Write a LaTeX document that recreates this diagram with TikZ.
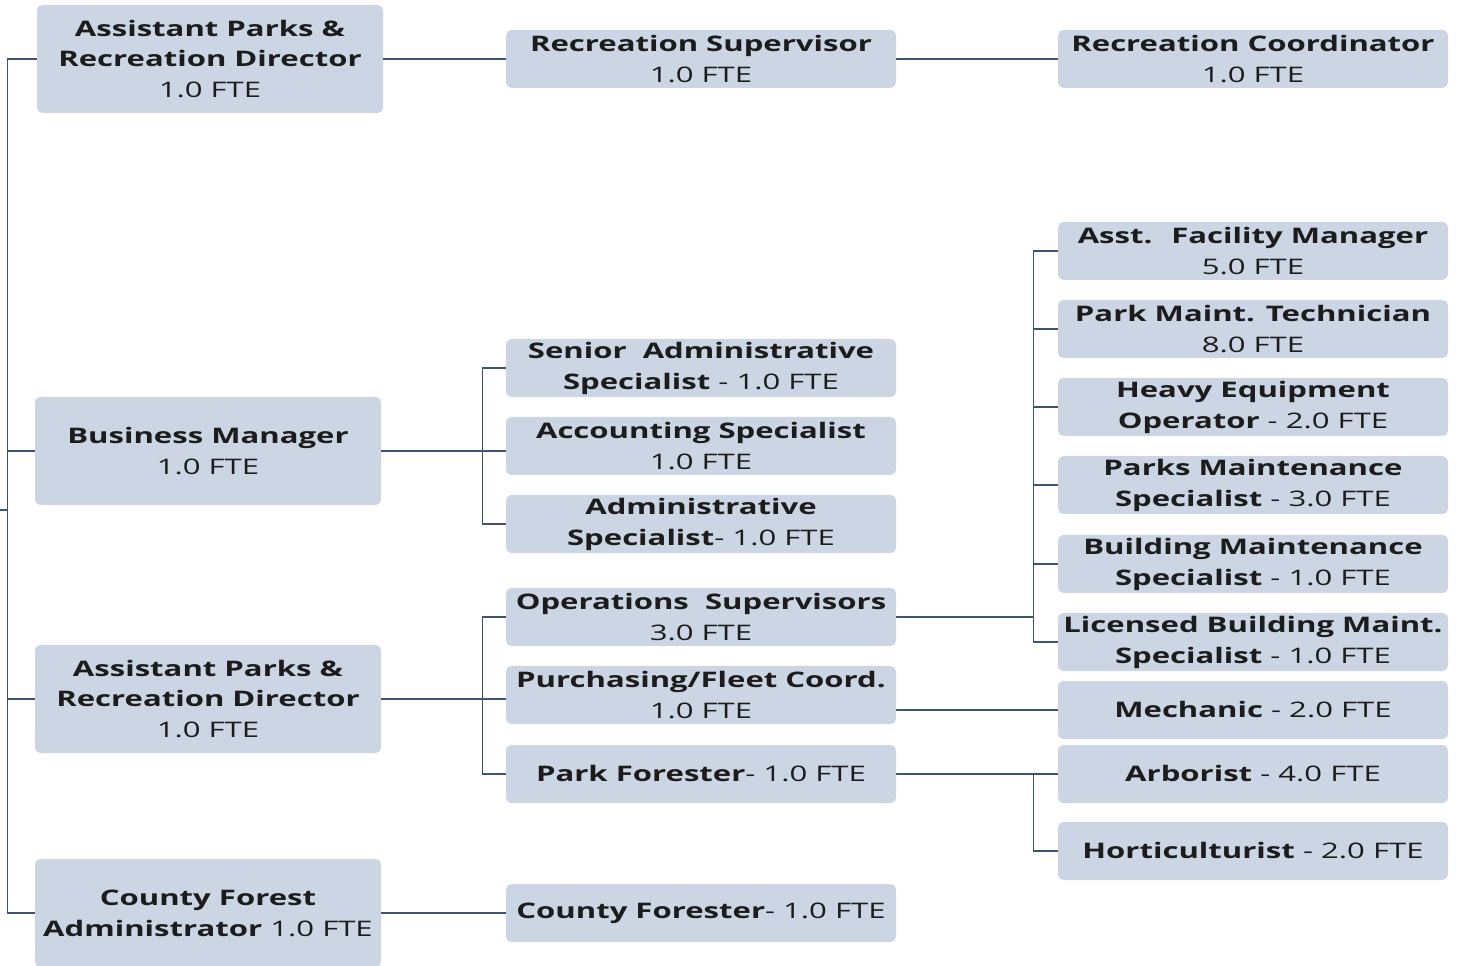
\documentclass[tikz,border=0pt]{standalone}
\usepackage{fontspec}
\setmainfont{Open Sans}[FakeStretch=1.45]
\usepackage{xcolor}
\definecolor{boxfill}{HTML}{CBD5E3}
\definecolor{linkcol}{HTML}{3D5475}
\definecolor{txt}{HTML}{1C1C1C}

\begin{document}
\begin{tikzpicture}[big/.style={fill=boxfill,rounded corners=3pt,minimum width=6.92cm,minimum height=2.16cm,align=center,text=txt,font=\fontsize{12.2}{17.6}\selectfont},
                    small/.style={fill=boxfill,rounded corners=3pt,minimum width=7.8cm,minimum height=1.16cm,align=center,text=txt,inner sep=1pt,font=\fontsize{12.2}{17.6}\selectfont},
                    link/.style={draw=linkcol,line width=0.9pt}]
                \useasboundingbox (0,0) rectangle (29.2,-19.32);

                \node[big] (a1) at (4.2,-1.18) {\textbf{Assistant Parks \&}\\\textbf{Recreation Director}\\1.0 FTE};
                \node[big] (bm) at (4.16,-9.02) {\textbf{Business Manager}\\1.0 FTE};
                \node[big] (a2) at (4.16,-13.98) {\textbf{Assistant Parks \&}\\\textbf{Recreation Director}\\1.0 FTE};
                \node[big] (cfa) at (4.16,-18.26) {\textbf{County Forest}\\\textbf{Administrator} 1.0 FTE};

                \node[small] (recsup) at (14.02,-1.18) {\textbf{Recreation Supervisor}\\1.0 FTE};
                \node[small] (sras) at (14.02,-7.36) {\textbf{Senior~ Administrative}\\\textbf{Specialist} - 1.0 FTE};
                \node[small] (acct) at (14.02,-8.92) {\textbf{Accounting Specialist}\\1.0 FTE};
                \node[small] (adms) at (14.02,-10.48) {\textbf{Administrative}\\\textbf{Specialist}- 1.0 FTE};
                \node[small] (opsup) at (14.02,-12.34) {\textbf{Operations~ Supervisors}\\3.0 FTE};
                \node[small] (purch) at (14.02,-13.9) {\textbf{Purchasing/Fleet Coord.}\\1.0 FTE};
                \node[small] (pforest) at (14.02,-15.48) {\textbf{Park Forester}- 1.0 FTE};
                \node[small] (cforest) at (14.02,-18.26) {\textbf{County Forester}- 1.0 FTE};

                \node[small] (reccoord) at (25.06,-1.18) {\textbf{Recreation Coordinator}\\1.0 FTE};
                \node[small] (afm) at (25.06,-5.02) {\textbf{Asst.~ Facility Manager}\\5.0 FTE};
                \node[small] (pmt) at (25.06,-6.58) {\textbf{Park Maint. Technician}\\8.0 FTE};
                \node[small] (heo) at (25.06,-8.14) {\textbf{Heavy Equipment}\\\textbf{Operator} - 2.0 FTE};
                \node[small] (pms) at (25.06,-9.7) {\textbf{Parks Maintenance}\\\textbf{Specialist} - 3.0 FTE};
                \node[small] (bms) at (25.06,-11.28) {\textbf{Building Maintenance}\\\textbf{Specialist} - 1.0 FTE};
                \node[small] (lbms) at (25.06,-12.84) {\textbf{Licensed Building Maint.}\\\textbf{Specialist} - 1.0 FTE};
                \node[small] (mech) at (25.06,-14.2) {\textbf{Mechanic} - 2.0 FTE};
                \node[small] (arb) at (25.06,-15.48) {\textbf{Arborist} - 4.0 FTE};
                \node[small] (hort) at (25.06,-17.02) {\textbf{Horticulturist} - 2.0 FTE};

                % left trunk
                \coordinate (root) at (0,-10.2);
                \draw[link] (a1.west) -- ++(-0.58,0) coordinate (b0) |- (cfa.west);
                \draw[link] (bm.west) -- (bm.west -| b0);
                \draw[link] (a2.west) -- (a2.west -| b0);
                \draw[link] (root) -- (root -| b0);

                \draw[link] (a1) -- (recsup);
                \draw[link] (recsup) -- (reccoord);
                \draw[link] (cfa) -- (cforest);
                \draw[link] (mech.west) -- (mech.west -| purch.east);

                % business manager
                \draw[link] (bm.east) -- ++(2.02,0) coordinate (b1);
                \draw[link] (sras.west) -| (b1) |- (adms.west);
                \draw[link] (b1) -- (b1 -| acct.west);

                % second director
                \draw[link] (a2.east) -- ++(2.02,0) coordinate (b2);
                \draw[link] (opsup.west) -| (b2) |- (pforest.west);
                \draw[link] (b2) -- (b2 -| purch.west);

                % operations
                \draw[link] (opsup.east) -- ++(2.74,0) coordinate (b3);
                \draw[link] (afm.west) -| (b3) |- (lbms.west);
                \draw[link] (pmt.west) -- (pmt.west -| b3);
                \draw[link] (heo.west) -- (heo.west -| b3);
                \draw[link] (pms.west) -- (pms.west -| b3);
                \draw[link] (bms.west) -- (bms.west -| b3);

                % forester
                \draw[link] (pforest.east) -- ++(2.74,0) coordinate (b4);
                \draw[link] (arb.west) -| (b4) |- (hort.west);
            \end{tikzpicture}
\end{document}
